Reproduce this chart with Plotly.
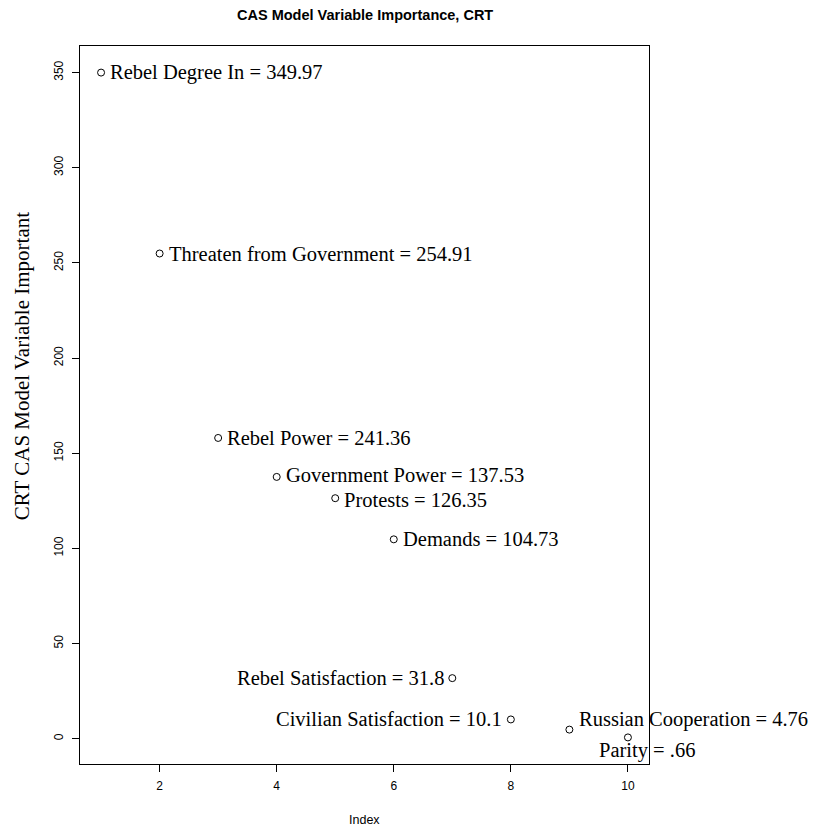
import plotly.graph_objects as go

# Variable importance scores from the CRT model
index = list(range(1, 11))
importance = [349.97, 254.91, 158.0, 137.53, 126.35, 104.73, 31.8, 10.1, 4.76, 0.66]
labels = [
    "Rebel Degree In = 349.97",
    "Threaten from Government = 254.91",
    "Rebel Power = 241.36",
    "Government Power = 137.53",
    "Protests = 126.35",
    "Demands = 104.73",
    "Rebel Satisfaction = 31.8",
    "Civilian Satisfaction = 10.1",
    "Russian Cooperation = 4.76",
    "Parity = .66",
]
x_ticks = [2, 4, 6, 8, 10]
y_ticks = [0, 50, 100, 150, 200, 250, 300, 350]

# label placement relative to each point: (xanchor, yanchor, xshift, yshift)
placement = [
    ("left", "middle", 8, 0),
    ("left", "middle", 8, 0),
    ("left", "middle", 8, 0),
    ("left", "middle", 8, 2),
    ("left", "middle", 8, -2),
    ("left", "middle", 8, 0),
    ("right", "middle", -7, 0),
    ("right", "middle", -8, 0),
    ("left", "middle", 9, 10),
    ("center", "middle", 19, -13),
]

SERIF = "Liberation Serif"
SANS = "Liberation Sans"

# R-style axis limits: data range padded by 4% on each side
def padded(vals):
    lo, hi = min(vals), max(vals)
    pad = (hi - lo) * 0.04
    return [lo - pad, hi + pad]

fig = go.Figure()
fig.add_trace(go.Scatter(
    x=index, y=importance, mode="markers",
    marker=dict(symbol="circle-open", size=7, color="black", line=dict(width=1, color="black")),
    showlegend=False, hoverinfo="skip", cliponaxis=False,
))

annotations = []
for xi, yi, txt, (xa, ya, dx, dy) in zip(index, importance, labels, placement):
    annotations.append(dict(
        x=xi, y=yi, xref="x", yref="y", text=txt, showarrow=False,
        xanchor=xa, yanchor=ya, xshift=dx, yshift=dy, borderpad=0,
        font=dict(family=SERIF, size=20.5, color="black"),
    ))

annotations.append(dict(
    x=0.5, y=1, xref="paper", yref="paper", yshift=31, text="<b>CAS Model Variable Importance, CRT</b>",
    showarrow=False, xanchor="center", yanchor="middle",
    font=dict(family=SANS, size=14.5, color="black"),
))
annotations.append(dict(
    x=0.5, y=0, xref="paper", yref="paper", yshift=-56, text="Index",
    showarrow=False, xanchor="center", yanchor="middle",
    font=dict(family=SANS, size=12.5, color="black"),
))
annotations.append(dict(
    x=0, y=0.554, xref="paper", yref="paper", xshift=-58, text="CRT CAS Model Variable Important",
    showarrow=False, xanchor="center", yanchor="middle", textangle=-90,
    font=dict(family=SERIF, size=21, color="black"),
))

axis_common = dict(
    showgrid=False, zeroline=False, showline=True, linecolor="black", linewidth=1,
    mirror=True, ticks="outside", ticklen=7, tickwidth=1, tickcolor="black",
    tickfont=dict(family=SANS, size=12, color="black"),
)

fig.update_layout(
    width=817, height=829,
    margin=dict(l=80, r=168, t=46, b=65),
    plot_bgcolor="white", paper_bgcolor="white",
    xaxis=dict(range=padded(index), tickvals=x_ticks, ticklabelstandoff=4, **axis_common),
    yaxis=dict(range=padded(importance), tickvals=y_ticks, tickangle=-90, ticklabelstandoff=4, **axis_common),
    annotations=annotations,
)

fig.write_html("out.html")
